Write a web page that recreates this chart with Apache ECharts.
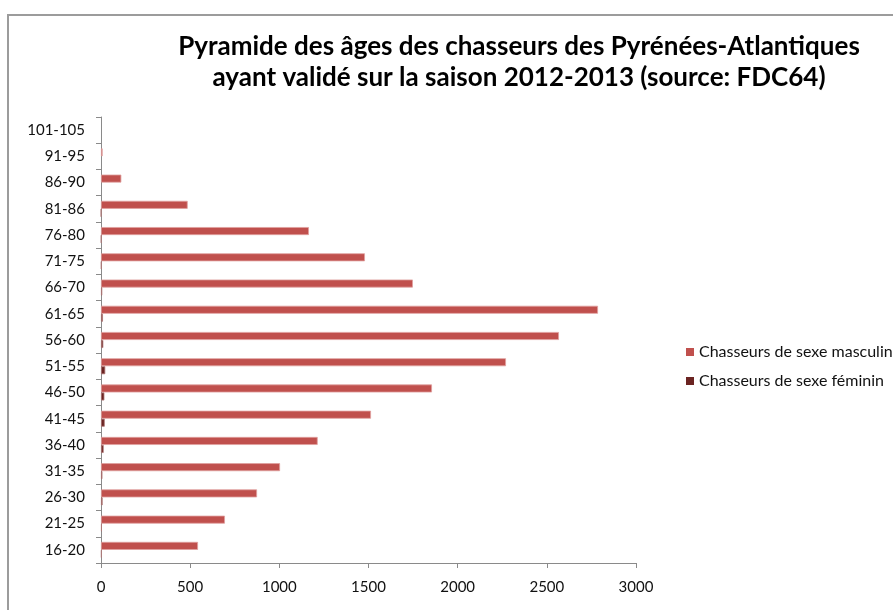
<!DOCTYPE html>
<html>
<head>
<meta charset="utf-8">
<script src="https://cdn.jsdelivr.net/npm/echarts@6/dist/echarts.min.js"></script>
<style>
  html, body { margin: 0; padding: 0; background: #fff; }
  #chart { width: 893px; height: 610px; }
</style>
</head>
<body>
<div id="chart"></div>
<script>
// Age classes, bottom to top
const ageClasses = ['16-20', '21-25', '26-30', '31-35', '36-40', '41-45', '46-50', '51-55',
  '56-60', '61-65', '66-70', '71-75', '76-80', '81-86', '86-90', '91-95', '101-105'];

// Number of hunters per age class
const maleHunters = [544, 695, 875, 1004, 1215, 1514, 1856, 2271, 2568, 2787, 1749, 1480, 1166, 486, 114, 9, 0];
const femaleHunters = [4, 5, 9, 8, 15, 21, 19, 24, 13, 11, 7, 3, 2, 1, 0, 0, 0];

// Value axis ticks
const xTicks = [0, 500, 1000, 1500, 2000, 2500, 3000];

const seriesNames = ['Chasseurs de sexe masculin', 'Chasseurs de sexe féminin'];
const titleLines = ['Pyramide des âges des chasseurs des Pyrénées-Atlantiques',
  'ayant validé sur la saison 2012-2013 (source: FDC64)'];

const FONT = 'Lato, "Open Sans", sans-serif';
const AXIS_GREY = '#8a8a8a';

// Bars get a thin light edge; empty classes get no edge so nothing shows at zero
function withEdge(values, edgeColor) {
  return values.map(v => ({
    value: v,
    itemStyle: { borderColor: edgeColor, borderWidth: v > 0 ? 0.8 : 0 }
  }));
}

const chart = echarts.init(document.getElementById('chart'), null, { renderer: 'canvas' });

chart.setOption({
  backgroundColor: '#ffffff',
  animation: false,
  title: {
    text: titleLines.join('\n'),
    left: 514,
    top: 26,
    textAlign: 'center',
    textStyle: {
      fontFamily: FONT,
      fontWeight: 'bold',
      fontSize: 26,
      lineHeight: 31,
      color: '#000000'
    }
  },
  graphic: [{
    type: 'rect',
    shape: { x: 8, y: 15, width: 900, height: 610 },
    style: { fill: 'none', stroke: '#9c9c9c', lineWidth: 2 },
    silent: true,
    z: -1
  }],
  legend: {
    orient: 'vertical',
    left: 686,
    top: 343,
    padding: 0,
    itemWidth: 8,
    itemHeight: 8,
    itemGap: 11,
    icon: 'rect',
    data: seriesNames,
    textStyle: {
      fontFamily: FONT,
      fontSize: 16,
      lineHeight: 18,
      color: '#111111'
    }
  },
  grid: {
    left: 101,
    right: 257,
    top: 117,
    bottom: 47,
    containLabel: false
  },
  xAxis: {
    type: 'value',
    min: xTicks[0],
    max: xTicks[xTicks.length - 1],
    interval: xTicks[1] - xTicks[0],
    splitLine: { show: false },
    axisLine: { show: true, lineStyle: { color: AXIS_GREY, width: 1 } },
    axisTick: { show: true, length: 5, lineStyle: { color: AXIS_GREY } },
    axisLabel: {
      margin: 17,
      fontFamily: FONT,
      fontSize: 15,
      color: '#111111',
      formatter: v => String(v)
    }
  },
  yAxis: {
    type: 'category',
    data: ageClasses,
    axisLine: { show: true, lineStyle: { color: AXIS_GREY, width: 1 } },
    axisTick: { show: true, length: 5, lineStyle: { color: AXIS_GREY } },
    axisLabel: {
      margin: 16,
      fontFamily: FONT,
      fontSize: 15,
      color: '#111111'
    }
  },
  series: [
    {
      name: seriesNames[0],
      type: 'bar',
      data: withEdge(maleHunters, '#e0a09e'),
      barWidth: 8,
      barGap: '0%',
      itemStyle: { color: '#c0504d' }
    },
    {
      name: seriesNames[1],
      type: 'bar',
      data: withEdge(femaleHunters, '#b07a78'),
      barWidth: 8,
      barGap: '0%',
      itemStyle: { color: '#6b2422' }
    }
  ]
});
</script>
</body>
</html>
